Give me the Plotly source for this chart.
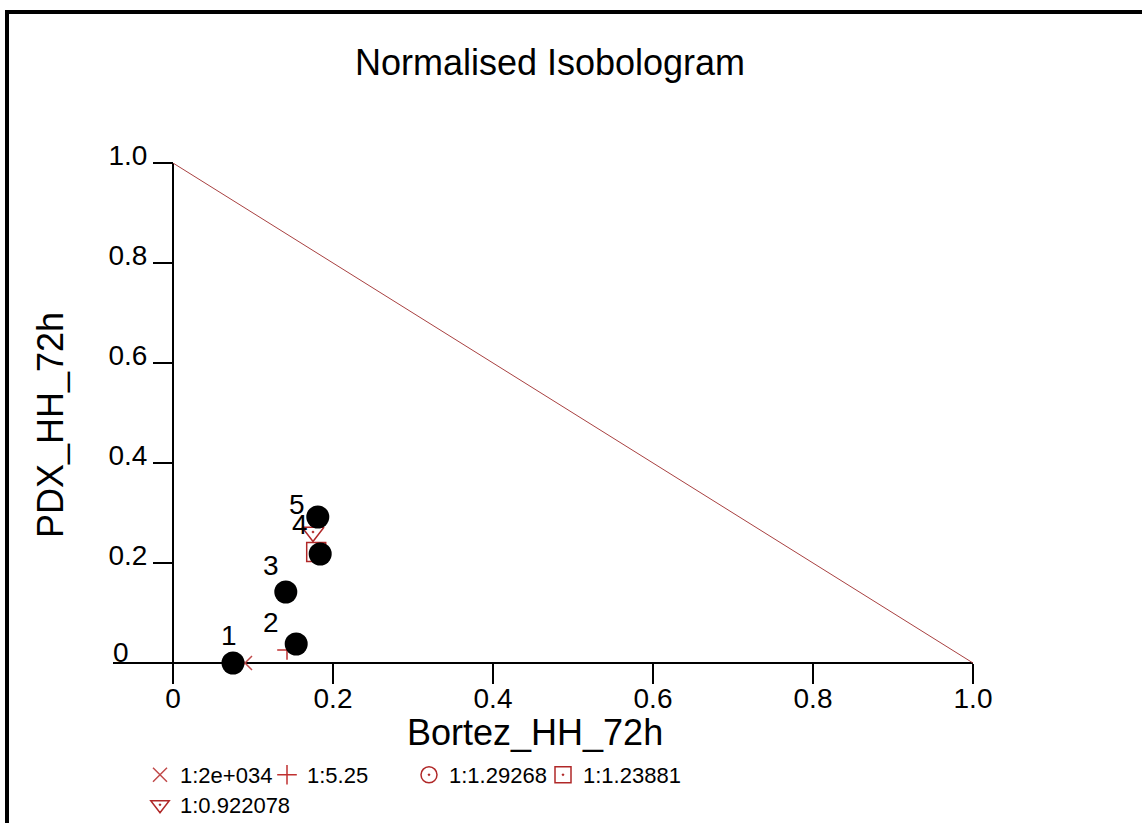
import plotly.graph_objects as go

# ---- data ----
ratio_labels = ["1:2e+034", "1:5.25", "1:1.29268", "1:1.23881", "1:0.922078"]
point_ids = ["1", "2", "3", "4", "5"]
combo_x = [0.090, 0.1425, 0.1425, 0.179, 0.175]
combo_y = [0.000, 0.026, 0.140, 0.222, 0.262]
ellipse_x = [0.075, 0.154, 0.141, 0.184, 0.181]
ellipse_y = [0.000, 0.038, 0.142, 0.218, 0.292]
additive_x = [0.0, 1.0]
additive_y = [1.0, 0.0]
x_ticks = [0, 0.2, 0.4, 0.6, 0.8, 1.0]
x_ticktext = ["0", "0.2", "0.4", "0.6", "0.8", "1.0"]
y_ticks = [0.2, 0.4, 0.6, 0.8, 1.0]
y_ticktext = ["0.2", "0.4", "0.6", "0.8", "1.0"]

symbols = ["x-thin", "cross-thin", "circle-open-dot", "square-open-dot", "triangle-down-open-dot"]
sizes = [14, 14, 17, 19, 19]
colors = ["#c04a4a", "#c03030", "#b02828", "#b02828", "#b02828"]
# legend entry placement (pixel left edge, pixel top) - layout only
legend_px = [(140, 754), (267, 754), (409, 754), (543, 754), (140, 784)]

FONT = "Liberation Sans, Arial, sans-serif"
W, H = 1142, 823
L, R, T, B = 113, 169, 163, 140
PW, PH = W - L - R, H - T - B
XR = [-0.075, 1.0]
YR = [-0.04, 1.0]


def px_x(p):
    return (p - L) / PW


def px_y(p):
    return (H - B - p) / PH


fig = go.Figure()

fig.add_trace(go.Scatter(x=additive_x, y=additive_y, mode="lines",
                         line=dict(color="#a84040", width=1), showlegend=False,
                         hoverinfo="skip"))

legend_names = ["legend"] + ["legend%d" % (k + 2) for k in range(len(ratio_labels) - 1)]
for i in range(len(ratio_labels)):
    fig.add_trace(go.Scatter(
        x=[combo_x[i]], y=[combo_y[i]], mode="markers", name=ratio_labels[i],
        marker=dict(symbol=symbols[i], size=sizes[i], color=colors[i],
                    line=dict(color=colors[i], width=1.5)),
        legend=legend_names[i], cliponaxis=False))

fig.add_trace(go.Scatter(x=ellipse_x, y=ellipse_y, mode="markers",
                         marker=dict(color="black", size=23), showlegend=False,
                         cliponaxis=False))

annotations = []
for i in range(len(point_ids)):
    annotations.append(dict(x=combo_x[i], y=combo_y[i], xref="x", yref="y",
                            text=point_ids[i], showarrow=False, xshift=-16, yshift=28,
                            xanchor="center", yanchor="middle",
                            font=dict(family=FONT, size=28, color="black")))

annotations.append(dict(x=px_x(121), y=px_y(652), xref="paper", yref="paper",
                        text="0", showarrow=False, xanchor="center", yanchor="middle",
                        font=dict(family=FONT, size=28, color="black")))
annotations.append(dict(x=px_x(535), y=px_y(732), xref="paper", yref="paper",
                        text="Bortez_HH_72h", showarrow=False,
                        xanchor="center", yanchor="middle",
                        font=dict(family=FONT, size=36, color="black")))
annotations.append(dict(x=px_x(50), y=px_y(425), xref="paper", yref="paper",
                        text="PDX_HH_72h", showarrow=False, textangle=-90,
                        xanchor="center", yanchor="middle",
                        font=dict(family=FONT, size=36, color="black")))

layout_legends = {}
for i, name in enumerate(legend_names):
    lx, ly = legend_px[i]
    layout_legends[name] = dict(orientation="h", x=px_x(lx), y=px_y(ly),
                                xanchor="left", yanchor="top",
                                font=dict(family=FONT, size=22, color="black"),
                                bgcolor="rgba(0,0,0,0)", itemwidth=30)

fig.update_layout(
    width=W, height=H,
    margin=dict(l=L, r=R, t=T, b=B, autoexpand=False),
    paper_bgcolor="white", plot_bgcolor="white",
    font=dict(family=FONT, color="black"),
    title=dict(text="Normalised Isobologram", x=550 / W, xanchor="center",
               y=1 - 62 / H, yanchor="middle", yref="container",
               font=dict(family=FONT, size=36, color="black")),
    xaxis=dict(range=XR, anchor="free", position=(0 - YR[0]) / (YR[1] - YR[0]),
               tickvals=x_ticks, ticktext=x_ticktext, ticks="outside", ticklen=20,
               tickwidth=2, tickcolor="black", showgrid=False, showline=False,
               zeroline=True, zerolinecolor="black", zerolinewidth=2,
               ticklabelstandoff=-10,
               tickfont=dict(family=FONT, size=28, color="black")),
    yaxis=dict(range=YR, anchor="free", position=(0 - XR[0]) / (XR[1] - XR[0]),
               tickvals=y_ticks, ticktext=y_ticktext, ticks="outside", ticklen=20,
               tickwidth=2, tickcolor="black", showgrid=False, showline=False,
               zeroline=True, zerolinecolor="black", zerolinewidth=2,
               ticklabelshift=-8,
               tickfont=dict(family=FONT, size=28, color="black")),
    annotations=annotations,
    shapes=[dict(type="rect", xref="paper", yref="paper",
                 x0=px_x(7), y0=px_y(860), x1=px_x(1180), y1=px_y(12),
                 line=dict(color="black", width=4), fillcolor="rgba(0,0,0,0)",
                 layer="above")],
    showlegend=True,
    **layout_legends,
)

fig.write_html("out.html")
